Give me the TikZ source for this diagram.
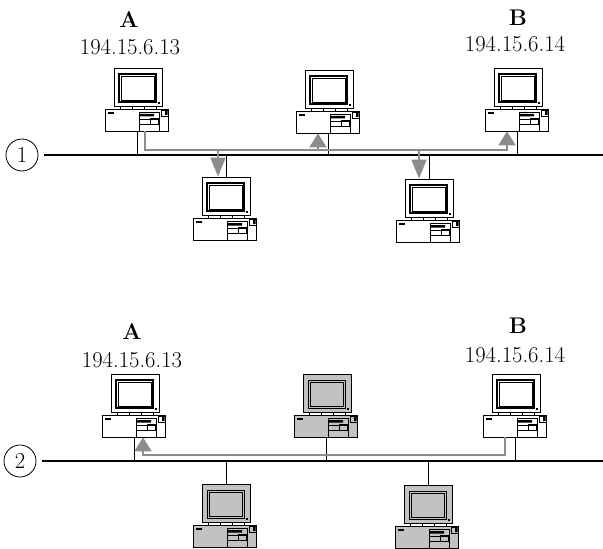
\documentclass[tikz,border=0pt]{standalone}
\usepackage{tikz}
\usetikzlibrary{positioning,arrows.meta,calc}

\definecolor{wire}{gray}{0.55}
\definecolor{pcgray}{gray}{0.76}

\tikzset{
  pcbody/.style={draw=black, line width=0.6pt, inner sep=0pt},
  pcthin/.style={draw=black, line width=0.45pt},
  bus/.style={draw=black, line width=0.8pt},
  drop/.style={draw=black, line width=0.6pt},
  wire/.style={draw=wire, line width=1.4pt},
  up/.tip={Triangle[width=12.75pt,length=10.5pt]},
  down/.tip={Triangle[width=11.25pt,length=14.25pt]},
  netno/.style={draw, circle, line width=0.6pt, minimum size=24pt, inner sep=0pt},
  hostlab/.style={font=\fontsize{17}{19}\selectfont\bfseries},
  % one PC: base unit at the origin, monitor on top
  pics/pc/.style 2 args={code={
    \node[pcbody, fill=#1, minimum width=47.25pt, minimum height=16.5pt] (-box) at (0,0) {};
    \fill (-29,-8) rectangle (-23,-6);
    \draw[pcthin] (2,-8) rectangle (22,11) (2,-1) -- (22,-1) (2,4) -- (22,4)
                  (13,-2) rectangle (21,4) (24,-10) rectangle (31,-4);
    \fill (3,-6) rectangle (17,-3.5) (28,-9) rectangle (30.5,-5);
    \foreach \t in {-17,-5,7,19} \draw[pcthin] (\t,-14) -- (\t,-11);
    \node[pcbody, fill=#1, minimum width=36pt, minimum height=28.5pt] (-mon) at (1,-33) {};
    \draw[line width=#2] (-18,-46) rectangle (19,-18);
    \draw[pcthin] (-16,-44) rectangle (17,-20);
    \fill (21,-18) rectangle (23,-16);
  }},
}

\begin{document}
\begin{tikzpicture}[x=0.75pt,y=-0.75pt,font=\fontsize{17}{19}\selectfont]
  \useasboundingbox (0,0) rectangle (603,549);

  % network 1
  \node[hostlab] (labA) at (129,20) {A};
  \node (ipA) at (130,47) {194.15.6.13};
  \node[hostlab] (labB) at (518,18) {B};
  \node (ipB) at (515,44) {194.15.6.14};

  \pic (pcA) at (137,120) {pc={white}{2pt}};
  \pic (pcM) at (328,122) {pc={white}{2pt}};
  \pic (pcB) at (517,120) {pc={white}{2pt}};
  \pic (pcC) at (225,229) {pc={white}{2pt}};
  \pic (pcD) at (428,231) {pc={white}{2pt}};

  \node[netno] (n1) at (22,155) {1};
  \coordinate (bus1e) at (603,155);
  \coordinate (trunk1) at (0,150);
  \draw[bus] ($(n1.east)+(6,0)$) -- (bus1e);
  \draw[drop] (pcA-box.south) -- (pcA-box.south |- bus1e);
  \draw[drop] (pcM-box.south) -- (pcM-box.south |- bus1e);
  \draw[drop] (pcB-box.south) -- (pcB-box.south |- bus1e);
  \draw[drop] (pcC-mon.north) -- (pcC-mon.north |- bus1e);
  \draw[drop] (pcD-mon.north) -- (pcD-mon.north |- bus1e);

  \draw[wire,-{up}] ([xshift=6pt]pcA-box.south) |- ([xshift=-7.5pt]pcB-box.south |- trunk1)
        -- ([xshift=-7.5pt]pcB-box.south);
  \draw[wire,-{up}] ([xshift=-7.5pt]pcM-box.south |- trunk1) -- ([xshift=-7.5pt]pcM-box.south);
  \draw[wire,-{down}] ([xshift=-6pt]pcC-mon.north |- trunk1) -- ([xshift=-6pt]pcC-mon.north);
  \draw[wire,-{down}] ([xshift=-7.5pt]pcD-mon.north |- trunk1) -- ([xshift=-7.5pt]pcD-mon.north);

  % network 2
  \node[hostlab] (labA2) at (132,332) {A};
  \node (ipA2) at (132,360) {194.15.6.13};
  \node[hostlab] (labB2) at (518,326) {B};
  \node (ipB2) at (515,355) {194.15.6.14};

  \pic (pcA2) at (134,426) {pc={white}{2pt}};
  \pic (pcM2) at (326,426) {pc={pcgray}{0.5pt}};
  \pic (pcB2) at (515,426) {pc={white}{2pt}};
  \pic (pcC2) at (225,536) {pc={pcgray}{0.5pt}};
  \pic (pcD2) at (427,537) {pc={pcgray}{0.5pt}};

  \node[netno] (n2) at (20,461) {2};
  \coordinate (bus2e) at (603,461);
  \coordinate (trunk2) at (0,455);
  \draw[bus] ($(n2.east)+(6,0)$) -- (bus2e);
  \draw[drop] (pcA2-box.south) -- (pcA2-box.south |- bus2e);
  \draw[drop] (pcM2-box.south) -- (pcM2-box.south |- bus2e);
  \draw[drop] (pcB2-box.south) -- (pcB2-box.south |- bus2e);
  \draw[drop] (pcC2-mon.north) -- (pcC2-mon.north |- bus2e);
  \draw[drop] (pcD2-mon.north) -- (pcD2-mon.north |- bus2e);

  \draw[wire,-{up}] ([xshift=-7.5pt]pcB2-box.south) |- ([xshift=6.75pt]pcA2-box.south |- trunk2)
        -- ([xshift=6.75pt]pcA2-box.south);
\end{tikzpicture}
\end{document}
